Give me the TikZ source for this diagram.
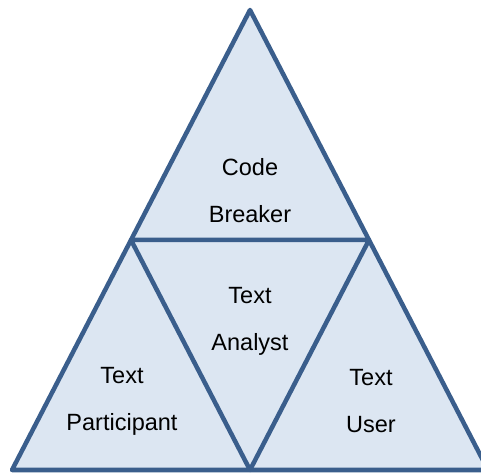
\documentclass[tikz,border=0pt]{standalone}
\usepackage{fontspec}
\setmainfont{Liberation Sans}
\definecolor{triblue}{HTML}{3A5E8C}
\definecolor{trifill}{HTML}{DCE6F2}
\tikzset{
  tri/.style={draw=triblue,fill=trifill,line width=4.5pt,line join=round},
  role/.style={align=center,text=black,font=\fontsize{23.5}{47}\selectfont}
}

\begin{document}
\begin{tikzpicture}[x=1pt,y=1pt]
        \useasboundingbox (0,0) rectangle (481,473);
        % corners of the big triangle and the midpoints of its sides
        \coordinate (top) at (250,463);
        \coordinate (bl) at (12,3);
        \coordinate (br) at (488,3);
        \coordinate (ml) at (131,233);
        \coordinate (mr) at (369,233);
        \coordinate (bm) at (250,3);
        \draw[tri] (top) -- (bl) -- (br) -- cycle;
        \draw[tri] (ml) -- (mr) -- (bm) -- cycle;
        % labels
        \node[role] (breaker) at (250,282) {Code\\Breaker};
        \node[role] (analyst) at (250,152) {Text\\Analyst};
        \node[role] (participant) at (122,72) {Text\\Participant};
        \node[role] (user) at (371,72) {Text\\User};
      \end{tikzpicture}
\end{document}
